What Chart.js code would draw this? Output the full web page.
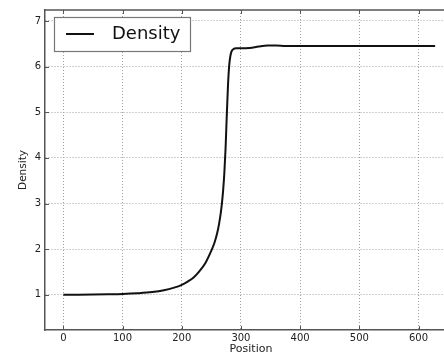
<!DOCTYPE html>
<html>
<head>
<meta charset="utf-8">
<script src="https://cdn.jsdelivr.net/npm/chart.js@4.4.1/dist/chart.umd.min.js"></script>
<style>
  html, body { margin: 0; padding: 0; background: #fff; overflow: hidden; }
  #wrap { width: 444px; height: 356px; overflow: hidden; }
  canvas { display: block; }
</style>
</head>
<body>
<div id="wrap"><canvas id="densityChart" width="460" height="356"></canvas></div>
<script>
// Density profile along the domain
const positions = [0, 25, 50, 75, 100, 125, 150, 170, 190, 200, 210, 220, 230, 240, 250, 255, 260, 263, 266, 268, 270, 272, 274, 276, 278, 280, 282, 284, 287, 292, 300, 315, 330, 345, 360, 375, 400, 450, 500, 550, 600, 628];
const densities = [1.00, 1.002, 1.006, 1.012, 1.02, 1.035, 1.06, 1.10, 1.17, 1.22, 1.29, 1.38, 1.52, 1.70, 1.97, 2.13, 2.36, 2.55, 2.8, 3.02, 3.3, 3.68, 4.2, 4.9, 5.55, 6.0, 6.22, 6.33, 6.38, 6.40, 6.40, 6.41, 6.44, 6.46, 6.46, 6.45, 6.45, 6.45, 6.45, 6.45, 6.45, 6.45];

const xTicks = [0, 100, 200, 300, 400, 500, 600];
const yTicks = [1, 2, 3, 4, 5, 6, 7];
const seriesLabel = "Density";

const FONT = "'DejaVu Sans', sans-serif";
const SPINE = "#555";
const GRID = "#a0a0a0";

// top spine, inward tick marks and the boxed legend
const framePlugin = {
  id: "frame",
  afterDraw(chart) {
    const { ctx, chartArea: a, scales } = chart;
    ctx.save();
    ctx.strokeStyle = SPINE;
    ctx.lineWidth = 1.5;
    ctx.beginPath();
    ctx.moveTo(a.left, a.top);
    ctx.lineTo(a.right, a.top);
    ctx.stroke();

    ctx.lineWidth = 1;
    ctx.beginPath();
    xTicks.forEach(v => {
      const x = Math.round(scales.x.getPixelForValue(v)) + 0.5;
      ctx.moveTo(x, a.bottom); ctx.lineTo(x, a.bottom - 4);
      ctx.moveTo(x, a.top); ctx.lineTo(x, a.top + 4);
    });
    yTicks.forEach(v => {
      const y = Math.round(scales.y.getPixelForValue(v)) + 0.5;
      ctx.moveTo(a.left, y); ctx.lineTo(a.left + 4, y);
    });
    ctx.stroke();

    // legend box
    const bx = 54, by = 17, bw = 136, bh = 34;
    ctx.fillStyle = "#fff";
    ctx.fillRect(bx, by, bw, bh);
    ctx.strokeStyle = "#777";
    ctx.lineWidth = 1.2;
    ctx.strokeRect(bx + 0.5, by + 0.5, bw, bh);
    const ds = chart.data.datasets[0];
    ctx.strokeStyle = ds.borderColor;
    ctx.lineWidth = 2;
    ctx.beginPath();
    ctx.moveTo(bx + 12, by + 17);
    ctx.lineTo(bx + 40, by + 17);
    ctx.stroke();
    ctx.fillStyle = "#111";
    ctx.font = "18px " + FONT;
    ctx.textBaseline = "middle";
    ctx.fillText(ds.label, bx + 58, by + 17);
    ctx.restore();
  }
};

new Chart(document.getElementById("densityChart"), {
  type: "line",
  data: {
    datasets: [{
      label: seriesLabel,
      data: positions.map((p, i) => ({ x: p, y: densities[i] })),
      borderColor: "#111",
      borderWidth: 2,
      pointRadius: 0,
      cubicInterpolationMode: "monotone",
      fill: false
    }]
  },
  options: {
    responsive: false,
    animation: false,
    devicePixelRatio: 1,
    layout: { padding: { top: 8, left: 0, right: 3, bottom: 0 } },
    plugins: { legend: { display: false }, tooltip: { enabled: false } },
    scales: {
      x: {
        type: "linear",
        min: -31,
        max: 665,
        afterBuildTicks: s => { s.ticks = xTicks.map(v => ({ value: v })); },
        afterFit: s => { s.height = 26; },
        grid: { color: GRID, lineWidth: 1, drawTicks: false },
        border: { display: true, color: SPINE, width: 1.5, dash: [1, 2] },
        ticks: { color: "#222", font: { family: FONT, size: 10 }, padding: 2, maxRotation: 0 },
        title: { display: true, text: "Position", color: "#222", font: { family: FONT, size: 11 }, padding: { top: 0, bottom: 0 } }
      },
      y: {
        min: 0.23,
        max: 7.24,
        afterBuildTicks: s => { s.ticks = yTicks.map(v => ({ value: v })); },
        afterFit: s => { s.width = 45; },
        grid: { color: GRID, lineWidth: 1, drawTicks: false },
        border: { display: true, color: SPINE, width: 1.5, dash: [1, 2] },
        ticks: { color: "#222", font: { family: FONT, size: 10 }, padding: 4 },
        title: { display: true, text: "Density", color: "#222", font: { family: FONT, size: 10.5 }, padding: { top: 17, bottom: 0 } }
      }
    }
  },
  plugins: [framePlugin]
});
</script>
</body>
</html>
